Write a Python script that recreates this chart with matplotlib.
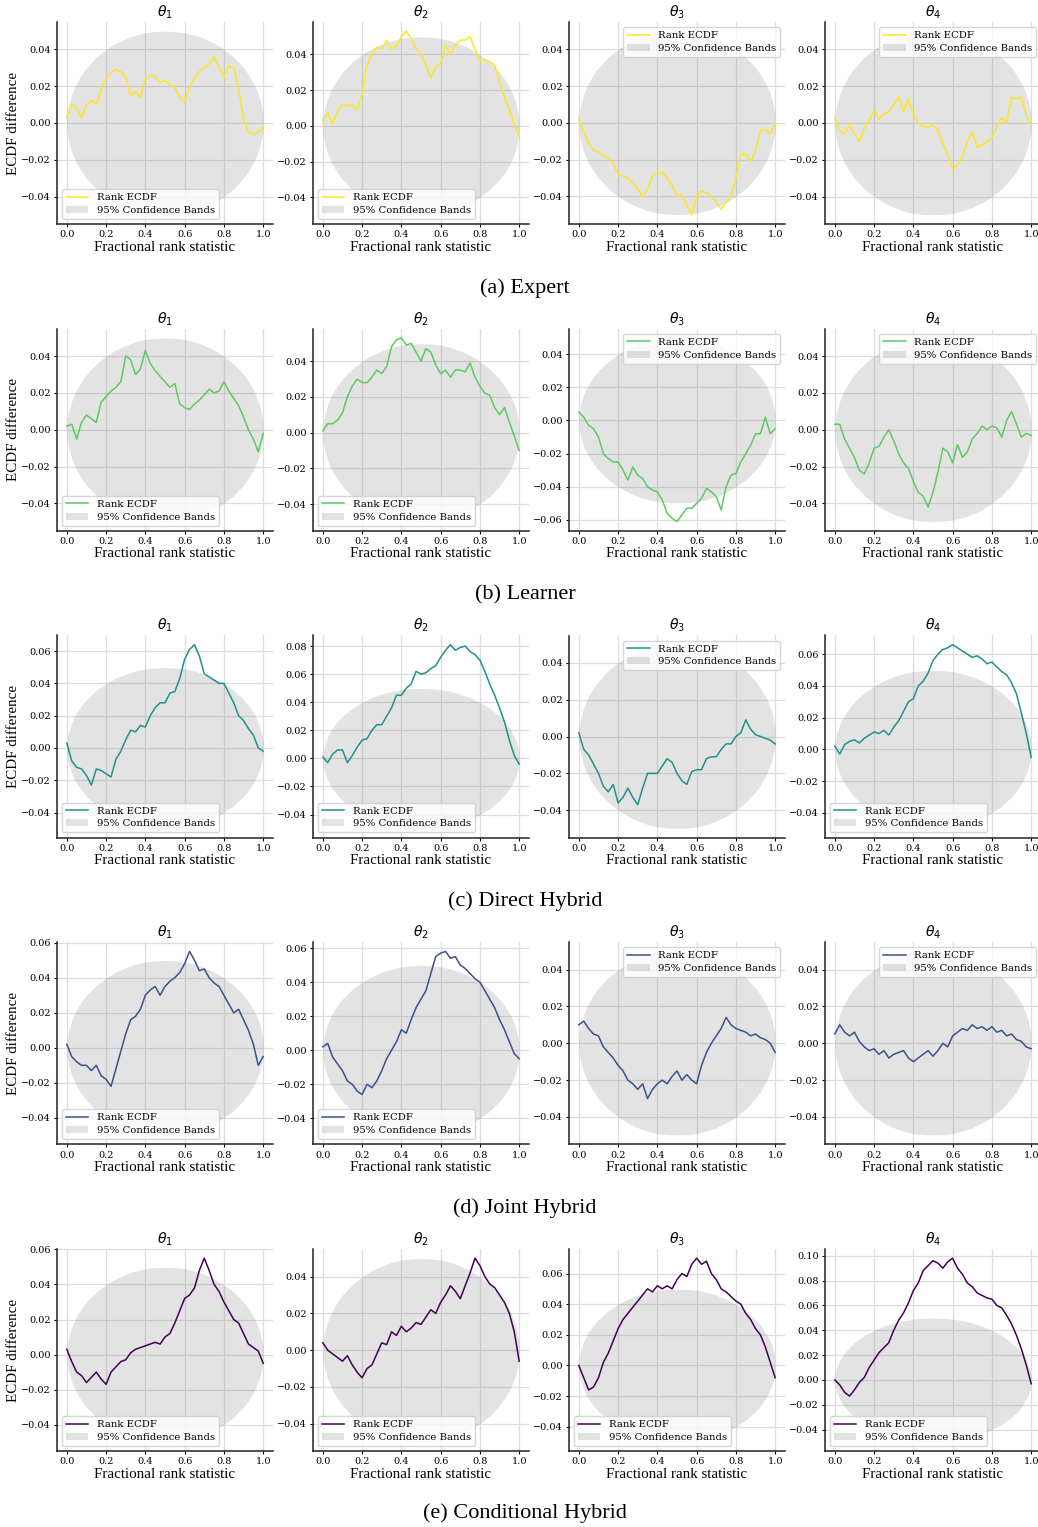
import matplotlib
matplotlib.use("Agg")
import matplotlib.pyplot as plt
import numpy as np

# fractional rank positions where the curves were read (step 0.025)
rank_x = np.linspace(0, 1, 41)

# half width of the 95% band, read on the left half (symmetric about 0.5)
band_x = [0, 0.002, 0.005, 0.01, 0.02, 0.035, 0.05, 0.075, 0.1, 0.15, 0.2, 0.25, 0.3, 0.35, 0.4, 0.45, 0.5]
band_hw = [0, 0.0045, 0.007, 0.0099, 0.014, 0.0184, 0.0218, 0.0263, 0.030, 0.0357, 0.040, 0.0433, 0.0458, 0.0477, 0.049, 0.0496, 0.0498]

expert_t1 = [0.003, 0.010, 0.008, 0.003, 0.010, 0.012, 0.010, 0.018, 0.024, 0.027, 0.029, 0.028, 0.025, 0.015, 0.017, 0.014,
             0.024, 0.026, 0.025, 0.022, 0.023, 0.021, 0.019, 0.014, 0.011, 0.020, 0.024, 0.028, 0.030, 0.032, 0.036, 0.030,
             0.025, 0.031, 0.030, 0.018, 0.002, -0.005, -0.006, -0.005, -0.002]
expert_t2 = [0.003, 0.007, 0.001, 0.008, 0.012, 0.011, 0.012, 0.009, 0.018, 0.034, 0.040, 0.044, 0.043, 0.048, 0.043, 0.045,
             0.050, 0.053, 0.049, 0.043, 0.040, 0.034, 0.027, 0.033, 0.035, 0.045, 0.040, 0.045, 0.048, 0.048, 0.050, 0.043,
             0.036, 0.037, 0.036, 0.034, 0.025, 0.016, 0.009, 0.001, -0.006]
expert_t3 = [0.002, -0.005, -0.011, -0.015, -0.016, -0.018, -0.019, -0.022, -0.028, -0.029, -0.030, -0.033, -0.036, -0.040,
             -0.036, -0.029, -0.027, -0.027, -0.030, -0.034, -0.040, -0.039, -0.045, -0.050, -0.040, -0.037, -0.038, -0.040,
             -0.043, -0.047, -0.043, -0.040, -0.030, -0.017, -0.017, -0.021, -0.015, -0.004, -0.004, -0.006, 0.000]
expert_t4 = [0.002, -0.004, -0.006, -0.001, -0.006, -0.010, -0.003, 0.001, 0.007, 0.002, 0.005, 0.006, 0.010, 0.014, 0.006,
             0.013, 0.005, 0.000, -0.002, -0.002, -0.001, -0.004, -0.011, -0.017, -0.025, -0.023, -0.018, -0.010, -0.005,
             -0.013, -0.012, -0.010, -0.008, -0.002, 0.003, 0.000, 0.014, 0.013, 0.014, 0.004, -0.001]

learner_t1 = [0.002, 0.003, -0.005, 0.004, 0.008, 0.006, 0.004, 0.015, 0.018, 0.021, 0.023, 0.026, 0.040, 0.038, 0.030,
              0.033, 0.043, 0.036, 0.032, 0.029, 0.026, 0.023, 0.025, 0.014, 0.012, 0.011, 0.014, 0.016, 0.019, 0.022,
              0.020, 0.021, 0.026, 0.021, 0.017, 0.013, 0.007, 0.000, -0.005, -0.012, -0.002]
learner_t2 = [0.001, 0.005, 0.005, 0.007, 0.011, 0.020, 0.026, 0.030, 0.028, 0.028, 0.031, 0.035, 0.033, 0.037, 0.048,
              0.052, 0.053, 0.049, 0.050, 0.045, 0.040, 0.047, 0.045, 0.038, 0.033, 0.035, 0.031, 0.035, 0.035, 0.034,
              0.039, 0.031, 0.026, 0.022, 0.021, 0.014, 0.010, 0.014, 0.006, -0.002, -0.010]
learner_t3 = [0.005, 0.002, -0.003, -0.005, -0.010, -0.020, -0.023, -0.025, -0.025, -0.030, -0.036, -0.028, -0.033, -0.035,
              -0.040, -0.042, -0.043, -0.048, -0.056, -0.059, -0.061, -0.057, -0.053, -0.053, -0.050, -0.047, -0.041,
              -0.043, -0.046, -0.054, -0.040, -0.033, -0.032, -0.025, -0.020, -0.015, -0.008, -0.008, 0.002, -0.008, -0.005]
learner_t4 = [0.003, 0.003, -0.005, -0.010, -0.015, -0.022, -0.024, -0.018, -0.010, -0.009, -0.004, 0.000, -0.006, -0.013,
              -0.018, -0.021, -0.028, -0.034, -0.036, -0.042, -0.034, -0.023, -0.010, -0.012, -0.018, -0.008, -0.015,
              -0.012, -0.005, -0.002, 0.002, 0.000, 0.002, 0.001, -0.004, 0.005, 0.010, 0.003, -0.004, -0.002, -0.003]

direct_t1 = [0.003, -0.008, -0.012, -0.013, -0.017, -0.023, -0.013, -0.014, -0.016, -0.018, -0.007, -0.002, 0.005, 0.011,
             0.010, 0.014, 0.013, 0.020, 0.025, 0.028, 0.028, 0.034, 0.035, 0.043, 0.055, 0.061, 0.064, 0.057, 0.046,
             0.044, 0.042, 0.040, 0.040, 0.034, 0.028, 0.020, 0.017, 0.012, 0.008, 0.000, -0.002]
direct_t2 = [0.001, -0.003, 0.003, 0.006, 0.006, -0.003, 0.002, 0.008, 0.013, 0.014, 0.020, 0.024, 0.024, 0.030, 0.036,
             0.045, 0.045, 0.050, 0.053, 0.062, 0.060, 0.061, 0.064, 0.066, 0.072, 0.077, 0.081, 0.077, 0.079, 0.080,
             0.076, 0.074, 0.070, 0.062, 0.053, 0.045, 0.036, 0.026, 0.013, 0.002, -0.004]
direct_t3 = [0.002, -0.007, -0.010, -0.015, -0.020, -0.027, -0.030, -0.026, -0.036, -0.033, -0.028, -0.033, -0.037, -0.028,
             -0.020, -0.020, -0.020, -0.016, -0.012, -0.014, -0.020, -0.024, -0.026, -0.019, -0.018, -0.018, -0.012,
             -0.011, -0.011, -0.007, -0.004, -0.004, 0.000, 0.002, 0.009, 0.004, 0.001, 0.000, -0.001, -0.002, -0.004]
direct_t4 = [0.002, -0.003, 0.003, 0.005, 0.006, 0.004, 0.007, 0.009, 0.011, 0.010, 0.012, 0.009, 0.014, 0.018, 0.024,
             0.030, 0.032, 0.040, 0.043, 0.048, 0.056, 0.060, 0.063, 0.064, 0.066, 0.064, 0.062, 0.060, 0.058, 0.059,
             0.057, 0.054, 0.055, 0.052, 0.049, 0.047, 0.042, 0.035, 0.023, 0.010, -0.005]

joint_t1 = [0.002, -0.005, -0.008, -0.010, -0.010, -0.013, -0.010, -0.016, -0.018, -0.022, -0.012, -0.002, 0.008, 0.016,
            0.018, 0.022, 0.030, 0.033, 0.035, 0.030, 0.035, 0.038, 0.040, 0.043, 0.048, 0.055, 0.050, 0.044, 0.045,
            0.040, 0.037, 0.035, 0.030, 0.025, 0.020, 0.022, 0.016, 0.010, 0.002, -0.010, -0.005]
joint_t2 = [0.002, 0.004, -0.004, -0.008, -0.012, -0.018, -0.020, -0.024, -0.026, -0.020, -0.022, -0.018, -0.012, -0.005,
            0.000, 0.005, 0.012, 0.010, 0.018, 0.025, 0.030, 0.035, 0.045, 0.055, 0.057, 0.058, 0.054, 0.055, 0.050,
            0.048, 0.045, 0.042, 0.040, 0.035, 0.030, 0.025, 0.018, 0.012, 0.005, -0.002, -0.005]
joint_t3 = [0.010, 0.012, 0.008, 0.005, 0.004, -0.002, -0.005, -0.008, -0.012, -0.015, -0.020, -0.022, -0.025, -0.022,
            -0.030, -0.025, -0.022, -0.020, -0.022, -0.018, -0.015, -0.020, -0.017, -0.020, -0.022, -0.012, -0.005,
            0.000, 0.004, 0.008, 0.014, 0.010, 0.008, 0.007, 0.006, 0.004, 0.005, 0.003, 0.002, 0.000, -0.005]
joint_t4 = [0.005, 0.010, 0.006, 0.004, 0.006, 0.001, -0.002, -0.004, -0.003, -0.006, -0.004, -0.008, -0.006, -0.005,
            -0.004, -0.008, -0.010, -0.008, -0.006, -0.004, -0.007, -0.004, 0.000, -0.002, 0.004, 0.006, 0.008, 0.007,
            0.010, 0.008, 0.009, 0.007, 0.009, 0.006, 0.007, 0.004, 0.005, 0.002, 0.001, -0.002, -0.003]

cond_t1 = [0.003, -0.004, -0.010, -0.012, -0.016, -0.013, -0.010, -0.014, -0.017, -0.010, -0.007, -0.004, -0.003, 0.001,
           0.003, 0.004, 0.005, 0.006, 0.007, 0.006, 0.010, 0.012, 0.018, 0.025, 0.032, 0.034, 0.038, 0.048, 0.055,
           0.048, 0.040, 0.036, 0.030, 0.025, 0.020, 0.018, 0.012, 0.006, 0.004, 0.002, -0.005]
cond_t2 = [0.004, 0.000, -0.002, -0.004, -0.006, -0.003, -0.008, -0.012, -0.015, -0.010, -0.008, -0.002, 0.004, 0.003,
           0.010, 0.008, 0.013, 0.010, 0.012, 0.015, 0.014, 0.018, 0.022, 0.020, 0.026, 0.030, 0.035, 0.032, 0.028,
           0.035, 0.042, 0.050, 0.046, 0.040, 0.036, 0.034, 0.030, 0.026, 0.020, 0.010, -0.006]
cond_t3 = [0.000, -0.008, -0.016, -0.014, -0.008, 0.002, 0.008, 0.016, 0.024, 0.030, 0.034, 0.038, 0.042, 0.046, 0.050,
           0.048, 0.052, 0.050, 0.052, 0.050, 0.056, 0.060, 0.058, 0.066, 0.070, 0.066, 0.068, 0.060, 0.056, 0.050,
           0.048, 0.045, 0.042, 0.040, 0.034, 0.030, 0.024, 0.020, 0.012, 0.002, -0.008]
cond_t4 = [0.000, -0.004, -0.010, -0.013, -0.008, -0.002, 0.002, 0.010, 0.016, 0.022, 0.026, 0.030, 0.040, 0.048, 0.054,
           0.062, 0.072, 0.078, 0.088, 0.092, 0.096, 0.094, 0.090, 0.095, 0.098, 0.090, 0.085, 0.078, 0.075, 0.070,
           0.068, 0.066, 0.065, 0.060, 0.058, 0.052, 0.045, 0.036, 0.025, 0.012, -0.003]

row_curves = [[expert_t1, expert_t2, expert_t3, expert_t4],
              [learner_t1, learner_t2, learner_t3, learner_t4],
              [direct_t1, direct_t2, direct_t3, direct_t4],
              [joint_t1, joint_t2, joint_t3, joint_t4],
              [cond_t1, cond_t2, cond_t3, cond_t4]]
row_captions = ['(a) Expert', '(b) Learner', '(c) Direct Hybrid', '(d) Joint Hybrid', '(e) Conditional Hybrid']
row_colors = ['#fde725', '#5ec962', '#21918c', '#3b528b', '#440154']
panel_titles = [r'$\theta_1$', r'$\theta_2$', r'$\theta_3$', r'$\theta_4$']
legend_locs = [['lower left', 'lower left', 'upper right', 'upper right'],
               ['lower left', 'lower left', 'upper right', 'upper right'],
               ['lower left', 'lower left', 'upper right', 'lower left'],
               ['lower left', 'lower left', 'upper right', 'upper right'],
               ['lower left', 'lower left', 'lower left', 'lower left']]

plt.rcParams['font.family'] = 'DejaVu Serif'
plt.rcParams['mathtext.fontset'] = 'dejavusans'

# full band outline, mirrored about 0.5
bx = np.array(band_x)
bh = np.array(band_hw)
band_xx = np.concatenate([bx, 1 - bx[::-1][1:]])
band_yy = np.concatenate([bh, bh[::-1][1:]])

W, H = 1038, 1527
fig = plt.figure(figsize=(W / 100, H / 100), dpi=100)

ax_lefts = [57, 313, 569, 825]
ax_w, ax_h = 216, 202
row_top0, row_step = 22, 306.75
caption_y = [288, 595, 901, 1208, 1513]

for r in range(5):
    top = row_top0 + r * row_step
    for c in range(4):
        ax = fig.add_axes([ax_lefts[c] / W, 1 - (top + ax_h) / H, ax_w / W, ax_h / H])
        band = ax.fill_between(band_xx, -band_yy, band_yy, color='gray', alpha=0.22, lw=0,
                               label='95% Confidence Bands', zorder=2)
        line, = ax.plot(rank_x, row_curves[r][c], color=row_colors[r], lw=1.1, label='Rank ECDF', zorder=3)
        ax.set_xticks([0, 0.2, 0.4, 0.6, 0.8, 1.0])
        ax.grid(True, color='#dddddd', lw=0.9, zorder=0)
        ax.set_axisbelow(True)
        for s in ['top', 'right']:
            ax.spines[s].set_visible(False)
        for s in ['left', 'bottom']:
            ax.spines[s].set_linewidth(1.1)
            ax.spines[s].set_color('#222222')
        ax.tick_params(labelsize=7, length=2.5, width=0.8, pad=2)
        ax.set_title(panel_titles[c], fontsize=10, pad=4)
        ax.set_xlabel('Fractional rank statistic', fontsize=10.8, family='Liberation Serif', labelpad=1)
        if c == 0:
            ax.set_ylabel('ECDF difference', fontsize=10.8, family='Liberation Serif', labelpad=1)
        ax.legend([line, band], ['Rank ECDF', '95% Confidence Bands'], loc=legend_locs[r][c],
                  fontsize=7.3, framealpha=0.8, edgecolor='#cccccc',
                  handlelength=2.2, borderpad=0.4, labelspacing=0.35)
    fig.text(525 / W, 1 - caption_y[r] / H, row_captions[r], ha='center', va='center',
             fontsize=16, family='Liberation Serif')

fig.savefig('out.png', dpi=100)
